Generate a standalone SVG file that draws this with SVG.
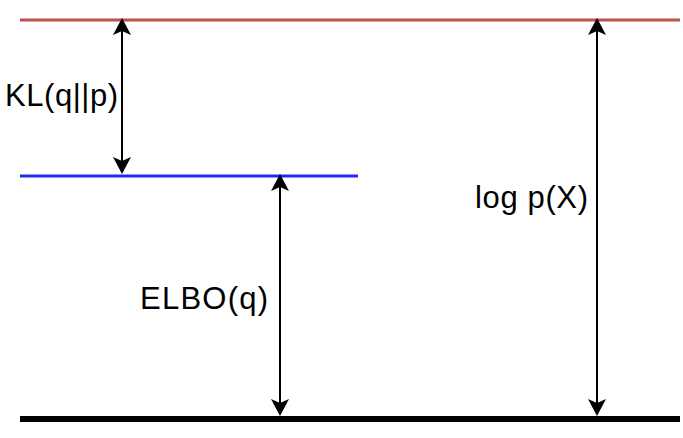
<svg xmlns="http://www.w3.org/2000/svg" width="683" height="438" viewBox="0 0 683 438">
<style>
text{font-family:"Liberation Sans",Arial,sans-serif;font-size:31px;fill:#000}
.c{stroke:#000;stroke-width:2;marker-start:url(#a);marker-end:url(#a)}
</style>
<defs>
<marker id="a" viewBox="-20 -10 30 20" refX="0" refY="0" markerWidth="30" markerHeight="20" markerUnits="userSpaceOnUse" orient="auto-start-reverse" style="overflow:visible">
<path d="M2,0 L-15,-9 L-11,0 L-15,9 Z" fill="#000"/>
</marker>
</defs>
<rect width="683" height="438" fill="#fff"/>
<g id="top"><line x1="20" y1="20" x2="680" y2="20" stroke="#c0504d" stroke-width="3"/></g>
<g id="mid"><line x1="20" y1="176" x2="358" y2="176" stroke="#2626ff" stroke-width="3"/></g>
<g id="bottom"><line x1="20" y1="419" x2="680" y2="419" stroke="#000" stroke-width="6"/></g>
<g id="connectors">
<line class="c" x1="122" y1="20" x2="122" y2="172"/>
<line class="c" x1="280" y1="176" x2="280" y2="414"/>
<line class="c" x1="597" y1="20" x2="597" y2="414"/>
</g>
<g id="labels">
<text x="5" y="106" textLength="113">KL(q||p)</text>
<text x="140" y="309" textLength="128">ELBO(q)</text>
<text x="475" y="208" textLength="113">log p(X)</text>
</g>
</svg>
